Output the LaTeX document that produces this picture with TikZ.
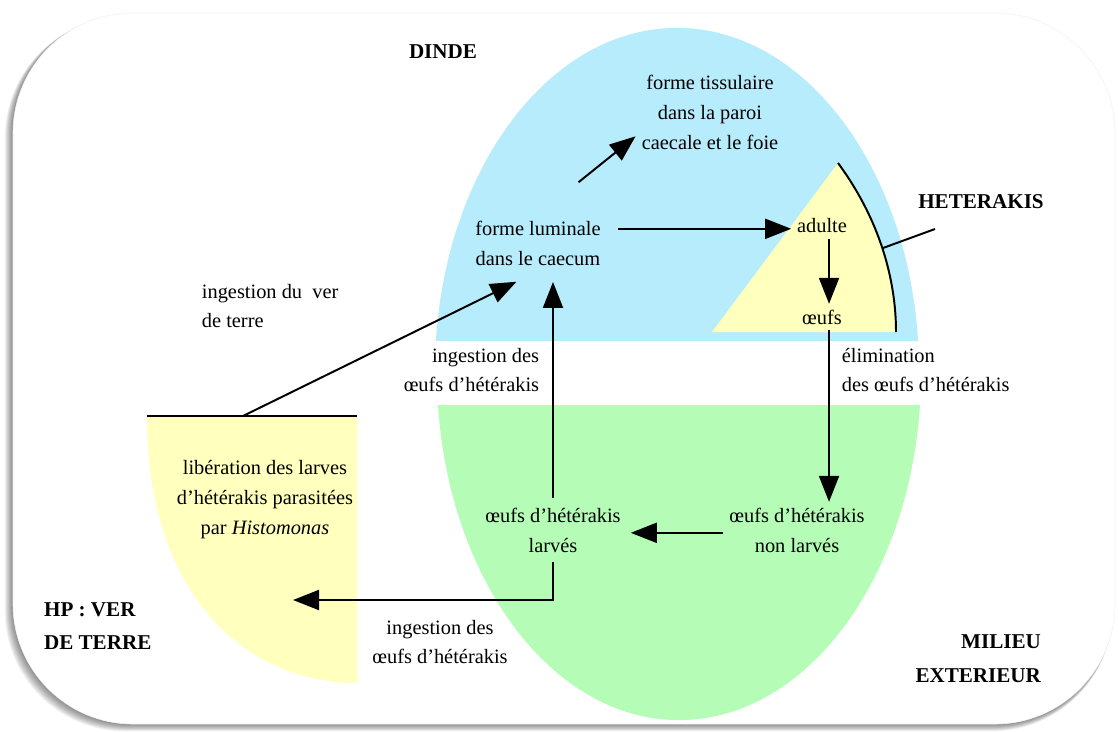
\documentclass[tikz,border=0pt]{standalone}
\usepackage{fontspec}
\setmainfont{Liberation Serif}
\usepackage{xcolor}
\usepackage{tikz}
\usetikzlibrary{arrows.meta,positioning}
\definecolor{dindeblue}{RGB}{183,236,252}
\definecolor{milieugreen}{RGB}{181,253,182}
\definecolor{veryellow}{RGB}{255,255,190}

\begin{document}
\begin{tikzpicture}[
    x=0.025cm, y=-0.025cm,
    txt/.style={font=\fontsize{14.5}{21.3}\selectfont, align=center, inner sep=4pt},
    zone/.style={font=\fontsize{15}{24}\selectfont\bfseries, inner sep=2pt},
    arr/.style={-{Triangle[length=6.5mm, width=5mm]}, line width=1.4pt},
    plain/.style={line width=1.4pt}
]
\useasboundingbox (0,0) rectangle (1118,731);

% frame with shadow
\foreach \k in {1,...,9}
  \fill[black, opacity=0.06, rounded corners=3cm] (13-\k*0.9,13+\k*0.5) rectangle (1115-\k*0.3,724+\k*0.8);
\fill[white, draw=black!5, rounded corners=3cm] (13,13) rectangle (1115,724);

% host zones
\begin{scope}
  \clip (0,0) rectangle (1118,340);
  \fill[dindeblue] (677,372) ellipse [x radius=6.05cm, y radius=8.6cm];
\end{scope}
\begin{scope}
  \clip (0,405) rectangle (1118,731);
  \fill[milieugreen] (679,372) ellipse [x radius=6.05cm, y radius=8.7cm];
\end{scope}

% heterakis sector
\fill[veryellow] (838,163) -- (712,332) -- (896,332) .. controls (896,280) and (880,220) .. (838,163) -- cycle;
\draw[plain] (838,163) .. controls (880,220) and (896,280) .. (896,332);

% earthworm
\fill[veryellow] (147,416) .. controls (147,600) and (250,683) .. (357,683) -- (357,416) -- cycle;
\draw[plain] (147,416) -- (357,416);

% nodes
\node[zone] (dinde) at (443,52) {DINDE};
\node[zone] (het) at (981,202) {HETERAKIS};
\node[zone, anchor=west, align=left] (hp) at (41,626) {HP : VER\\DE TERRE};
\node[zone, anchor=east, align=right] (milieu) at (1044,659) {MILIEU\\EXTERIEUR};

\node[txt, inner sep=2pt] (tiss) at (710,112) {forme tissulaire\\dans la paroi\\caecale et le foie};
\node[txt] (lum) at (538,243) {forme luminale\\dans le caecum};
\node[txt] (adulte) at (822,226) {adulte};
\node[txt] (oeufs) at (822,317) {œufs};
\node[txt, anchor=west, align=left] (elim) at (836,370) {élimination\\des œufs d’hétérakis};
\node[txt] (nonlarv) at (797,530) {œufs d’hétérakis\\non larvés};
\node[txt, inner sep=7pt] (larv) at (553,530) {œufs d’hétérakis\\larvés};
\node[txt, anchor=east, align=right] (ingup) at (545,370) {ingestion des\\œufs d’hétérakis};
\node[txt, anchor=west, align=left] (ingver) at (196,306) {ingestion du\ \ ver\\de terre};
\node[txt] (lib) at (265,500) {libération des larves\\d’hétérakis parasitées\\par \textit{Histomonas}};
\node[txt] (ingdown) at (440,642) {ingestion des\\œufs d’hétérakis};

\coordinate (arcpt) at (883,248);
\coordinate (hetend) at (935,229);
\coordinate (wormtop) at (243,416);
\coordinate (hptip) at (293,600);

% connectors
\draw[plain] (arcpt) -- (hetend);
\draw[arr, shorten <=1.3cm, shorten >=0.1cm] (lum.north) -- (tiss.-163);
\draw[arr, shorten <=0.3cm] ([yshift=-2pt]lum.east |- adulte.west) -- ([yshift=-2pt]adulte.west);
\draw[arr] ([xshift=5pt]adulte.south) -- ([xshift=5pt]oeufs.north);
\draw[arr] ([xshift=5pt]oeufs.south) -- ([xshift=5pt]oeufs.south |- nonlarv.north);
\draw[arr] ([yshift=-2pt]nonlarv.west) -- ([yshift=-2pt]larv.east);
\draw[arr, shorten >=0.27cm] (larv.north) -- (larv.north |- lum.south);
\draw[arr] (larv.south) |- (hptip);
\draw[arr, shorten >=0.6cm] (wormtop) -- (lum.south);
\end{tikzpicture}
\end{document}
